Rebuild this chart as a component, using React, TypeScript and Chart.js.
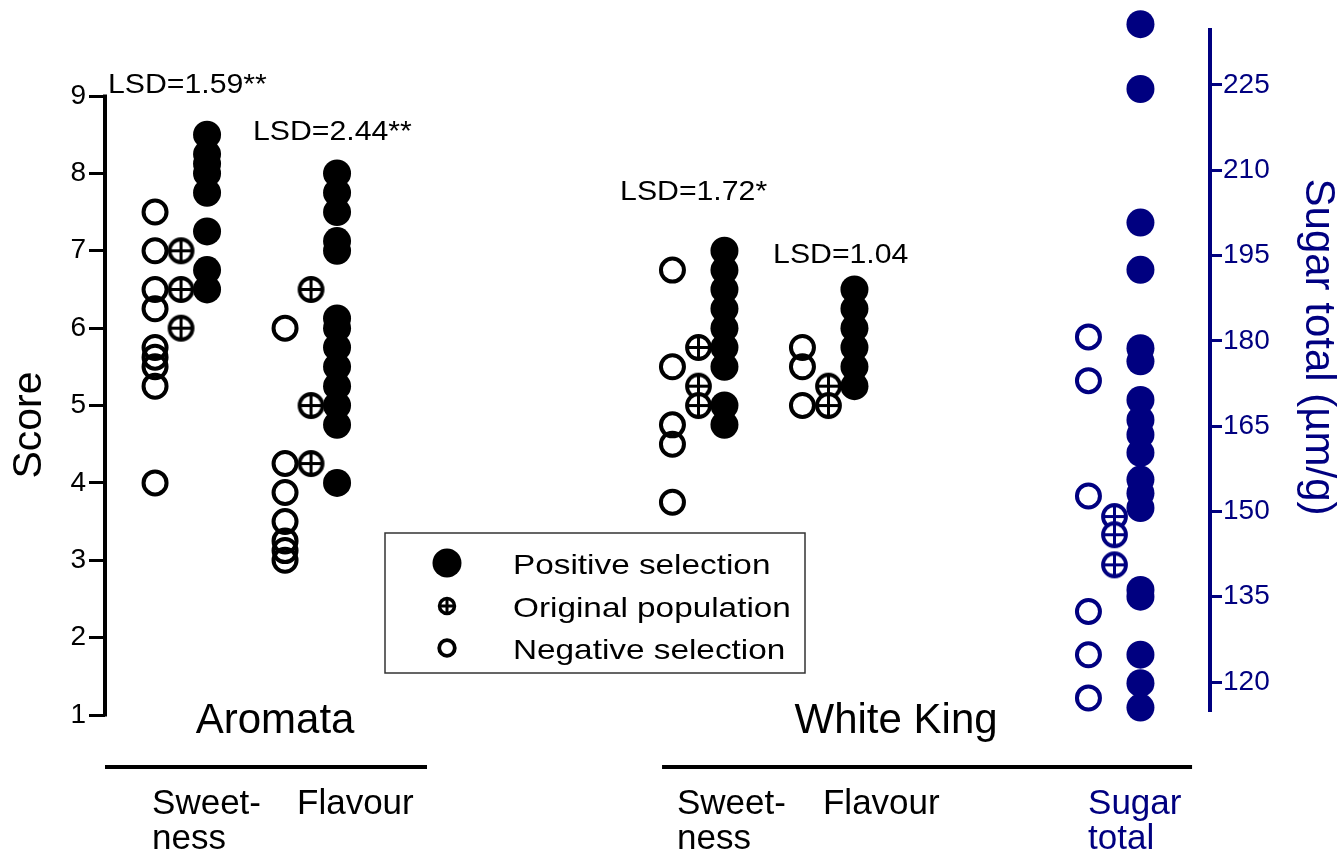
import React, { useEffect, useRef } from "react";
import { Chart, registerables } from "chart.js";

Chart.register(...registerables);

const BLACK = "#000000";
const NAVY = "#000080";
const FONT = "'Liberation Sans', Arial, Helvetica, sans-serif";

// ---------- categories ----------
const groupLabels = ["Aromata", "White King"];
const categoryLabels: string[][] = [["Sweet-", "ness"], ["Flavour"], ["Sweet-", "ness"], ["Flavour"], ["Sugar", "total"]];
const columnPos = [1, 2, 4.98, 5.98, 8.18];
const seriesNames = ["Positive selection", "Original population", "Negative selection"];

// ---------- tick labels ----------
const scoreTicks = [1, 2, 3, 4, 5, 6, 7, 8, 9];
const sugarTicks = [120, 135, 150, 165, 180, 195, 210, 225];

// ---------- LSD annotations ----------
const lsdLabels = ["LSD=1.59**", "LSD=2.44**", "LSD=1.72*", "LSD=1.04"];

// ---------- Score values (left axis) ----------
const aroSweetNeg = [7.5, 7.0, 6.5, 6.25, 5.75, 5.625, 5.5, 5.25, 4.0];
const aroSweetOrig = [7.0, 6.5, 6.0];
const aroSweetPos = [8.5, 8.25, 8.125, 8.0, 7.75, 7.25, 6.75, 6.5];

const aroFlavNeg = [6.0, 4.25, 3.875, 3.5, 3.25, 3.125, 3.0];
const aroFlavOrig = [6.5, 5.0, 4.25];
const aroFlavPos = [8.0, 7.75, 7.5, 7.125, 7.0, 6.125, 6.0, 5.75, 5.5, 5.25, 5.0, 4.75, 4.0];

const wkSweetNeg = [6.75, 5.5, 4.75, 4.5, 3.75];
const wkSweetOrig = [5.75, 5.25, 5.0];
const wkSweetPos = [7.0, 6.75, 6.5, 6.25, 6.0, 5.75, 5.5, 5.0, 4.75];

const wkFlavNeg = [5.75, 5.5, 5.0];
const wkFlavOrig = [5.25, 5.0];
const wkFlavPos = [6.5, 6.25, 6.0, 5.75, 5.5, 5.25];

// ---------- Sugar total values (right axis) ----------
const sugarNeg = [180.7, 173.0, 152.7, 132.4, 124.8, 117.2];
const sugarOrig = [149.1, 145.9, 140.6];
const sugarPos = [235.7, 224.3, 200.8, 192.5, 178.7, 176.4, 169.6, 166.1, 163.5, 160.3, 155.6, 153.2, 150.6, 136.2, 135.0, 124.8, 119.8, 115.5];

// ---------- layout (not data) ----------
const SERIES_OFFSET = { pos: 0.2, orig: 0, neg: -0.2 };
const CATEGORY_LABEL_X = [0.777, 1.892, 4.815, 5.938, 7.977];
const LSD_X = [0.438, 1.553, 4.377, 5.554];
const LSD_Y = [9.035, 8.43, 7.656, 6.838];
const GROUP_LABEL_X = [1.723, 6.5];
const GROUP_LINE = [[0.415, 2.892], [4.70, 8.777]];

function toPoints(columns: number[][], offset: number, startCol: number) {
  return columns.flatMap((vals, i) => vals.map((v) => ({ x: columnPos[startCol + i] + offset, y: v })));
}

function makeCrossMarker(color: string, r: number, lw: number, plw: number) {
  const size = Math.ceil(2 * (r + lw) + 2);
  const c = document.createElement("canvas");
  c.width = size;
  c.height = size;
  const g = c.getContext("2d")!;
  const m = size / 2;
  g.beginPath();
  g.arc(m, m, r, 0, Math.PI * 2);
  g.fillStyle = "#ffffff";
  g.fill();
  g.lineWidth = lw;
  g.strokeStyle = color;
  g.stroke();
  g.lineWidth = plw;
  g.beginPath();
  g.moveTo(m, m - r);
  g.lineTo(m, m + r);
  g.moveTo(m - r, m);
  g.lineTo(m + r, m);
  g.stroke();
  return c;
}

function stretchText(ctx: CanvasRenderingContext2D, text: string, x: number, y: number, sx: number) {
  ctx.save();
  ctx.translate(x, y);
  ctx.scale(sx, 1);
  ctx.fillText(text, 0, 0);
  ctx.restore();
}

const overlayPlugin = {
  id: "overlay",
  afterDraw(chart: any) {
    const { ctx, chartArea, scales } = chart;
    const x = scales.x;
    const y = scales.y;
    ctx.save();

    // left axis line (1..9)
    ctx.strokeStyle = BLACK;
    ctx.lineWidth = 4;
    ctx.beginPath();
    ctx.moveTo(chartArea.left, y.getPixelForValue(scoreTicks[scoreTicks.length - 1]) - 1.5);
    ctx.lineTo(chartArea.left, y.getPixelForValue(scoreTicks[0]) + 1.5);
    ctx.stroke();

    // right axis line
    ctx.strokeStyle = NAVY;
    ctx.beginPath();
    ctx.moveTo(chartArea.right, chartArea.top);
    ctx.lineTo(chartArea.right, chartArea.bottom - 3);
    ctx.stroke();

    // axis titles
    ctx.fillStyle = BLACK;
    ctx.font = `41px ${FONT}`;
    ctx.textAlign = "center";
    ctx.textBaseline = "middle";
    ctx.save();
    ctx.translate(30, 425);
    ctx.rotate(-Math.PI / 2);
    ctx.fillText("Score", 0, 0);
    ctx.restore();

    ctx.fillStyle = NAVY;
    ctx.font = `42px ${FONT}`;
    ctx.save();
    ctx.translate(1318, 347);
    ctx.rotate(Math.PI / 2);
    ctx.fillText("Sugar total (\u00b5m/g)", 0, 0);
    ctx.restore();

    // LSD annotations
    ctx.fillStyle = BLACK;
    ctx.font = `28px ${FONT}`;
    ctx.textAlign = "left";
    ctx.textBaseline = "alphabetic";
    lsdLabels.forEach((t, i) => {
      stretchText(ctx, t, x.getPixelForValue(LSD_X[i]), y.getPixelForValue(LSD_Y[i]), 1.08);
    });

    // group labels
    ctx.font = `42px ${FONT}`;
    ctx.textAlign = "center";
    groupLabels.forEach((t, i) => {
      ctx.fillText(t, x.getPixelForValue(GROUP_LABEL_X[i]), chartArea.bottom + 18);
    });

    // group lines
    ctx.strokeStyle = BLACK;
    ctx.lineWidth = 4;
    GROUP_LINE.forEach(([a, b]) => {
      ctx.beginPath();
      ctx.moveTo(x.getPixelForValue(a), chartArea.bottom + 52);
      ctx.lineTo(x.getPixelForValue(b), chartArea.bottom + 52);
      ctx.stroke();
    });

    // legend box
    const lx = 385, ly = 533, lw = 420, lh = 140;
    ctx.strokeStyle = "#333333";
    ctx.lineWidth = 1.5;
    ctx.strokeRect(lx, ly, lw, lh);
    const rows = [563, 606, 648];
    const mx = 447;
    // positive
    ctx.fillStyle = BLACK;
    ctx.beginPath();
    ctx.arc(mx, rows[0], 14.5, 0, Math.PI * 2);
    ctx.fill();
    // original
    const cm = makeCrossMarker(BLACK, 7.5, 3.5, 3);
    ctx.drawImage(cm, mx - cm.width / 2, rows[1] - cm.height / 2);
    // negative
    ctx.beginPath();
    ctx.arc(mx, rows[2], 7.8, 0, Math.PI * 2);
    ctx.lineWidth = 3.8;
    ctx.strokeStyle = BLACK;
    ctx.stroke();
    ctx.font = `28px ${FONT}`;
    ctx.textAlign = "left";
    ctx.textBaseline = "alphabetic";
    ctx.fillStyle = BLACK;
    seriesNames.forEach((t, i) => stretchText(ctx, t, 513, rows[i] + 11, 1.19));

    ctx.restore();
  },
};

export default function App() {
  const ref = useRef<HTMLCanvasElement | null>(null);

  useEffect(() => {
    if (!ref.current) return;
    const crossBlack = makeCrossMarker(BLACK, 11.5, 3.8, 3);
    const crossNavy = makeCrossMarker(NAVY, 11.5, 3.8, 3);

    const scoreNeg = [aroSweetNeg, aroFlavNeg, wkSweetNeg, wkFlavNeg];
    const scoreOrig = [aroSweetOrig, aroFlavOrig, wkSweetOrig, wkFlavOrig];
    const scorePos = [aroSweetPos, aroFlavPos, wkSweetPos, wkFlavPos];

    const negStyle = (color: string) => ({
      pointStyle: "circle",
      pointRadius: 11.5,
      pointBorderWidth: 4,
      pointBorderColor: color,
      pointBackgroundColor: "rgba(0,0,0,0)",
      borderColor: color,
      backgroundColor: "rgba(0,0,0,0)",
    });
    const posStyle = (color: string) => ({
      pointStyle: "circle",
      pointRadius: 14,
      pointBorderWidth: 0,
      pointBorderColor: color,
      pointBackgroundColor: color,
      borderColor: color,
      backgroundColor: color,
    });

    const chart = new Chart(ref.current, {
      type: "scatter",
      data: {
        datasets: [
          { label: seriesNames[2], data: toPoints(scoreNeg, SERIES_OFFSET.neg, 0), yAxisID: "y", clip: false, ...negStyle(BLACK) } as any,
          { label: seriesNames[1], data: toPoints(scoreOrig, SERIES_OFFSET.orig, 0), yAxisID: "y", clip: false, pointStyle: crossBlack, pointRadius: 14 } as any,
          { label: seriesNames[0], data: toPoints(scorePos, SERIES_OFFSET.pos, 0), yAxisID: "y", clip: false, ...posStyle(BLACK) } as any,
          { label: "Sugar " + seriesNames[2], data: toPoints([sugarNeg], SERIES_OFFSET.neg, 4), yAxisID: "y2", clip: false, ...negStyle(NAVY) } as any,
          { label: "Sugar " + seriesNames[1], data: toPoints([sugarOrig], SERIES_OFFSET.orig, 4), yAxisID: "y2", clip: false, pointStyle: crossNavy, pointRadius: 14 } as any,
          { label: "Sugar " + seriesNames[0], data: toPoints([sugarPos], SERIES_OFFSET.pos, 4), yAxisID: "y2", clip: false, ...posStyle(NAVY) } as any,
        ],
      },
      options: {
        responsive: false,
        animation: false,
        events: [],
        layout: { padding: { top: 28, left: 0, right: 0, bottom: 0 } },
        plugins: { legend: { display: false }, tooltip: { enabled: false }, title: { display: false } },
        scales: {
          x: {
            type: "linear",
            position: "bottom",
            min: 0.415,
            max: 8.915,
            grid: { display: false, drawTicks: false },
            border: { display: false },
            afterBuildTicks: (s: any) => {
              s.ticks = CATEGORY_LABEL_X.map((v) => ({ value: v }));
            },
            afterFit: (s: any) => {
              s.height = 141;
            },
            ticks: {
              autoSkip: false,
              maxRotation: 0,
              minRotation: 0,
              align: "start",
              padding: 72,
              font: { family: FONT, size: 35, lineHeight: 1 },
              color: (c: any) => (c.index === 4 ? NAVY : BLACK),
              callback: (_v: any, i: number) => categoryLabels[i],
            },
          } as any,
          y: {
            type: "linear",
            position: "left",
            min: 1,
            max: 9.879,
            afterBuildTicks: (s: any) => {
              s.ticks = scoreTicks.map((v) => ({ value: v }));
            },
            afterFit: (s: any) => {
              s.width = 105;
            },
            grid: { display: true, drawOnChartArea: false, drawTicks: true, tickLength: 16, lineWidth: 3, color: BLACK },
            border: { display: false },
            ticks: { padding: 3, font: { family: FONT, size: 28 }, color: BLACK },
          } as any,
          y2: {
            type: "linear",
            position: "right",
            min: 114.196,
            max: 235.025,
            afterBuildTicks: (s: any) => {
              s.ticks = sugarTicks.map((v) => ({ value: v }));
            },
            afterFit: (s: any) => {
              s.width = 127;
            },
            grid: { display: true, drawOnChartArea: false, drawTicks: true, tickLength: 12, lineWidth: 3, color: NAVY },
            border: { display: false },
            ticks: { padding: 1, font: { family: FONT, size: 28 }, color: NAVY },
          } as any,
        },
      },
      plugins: [overlayPlugin],
    });
    return () => chart.destroy();
  }, []);

  return (
    <div style={{ position: "absolute", left: 0, top: 0, width: 1337, height: 856, background: "#ffffff" }}>
      <canvas ref={ref} width={1337} height={856} style={{ display: "block" }} />
    </div>
  );
}
